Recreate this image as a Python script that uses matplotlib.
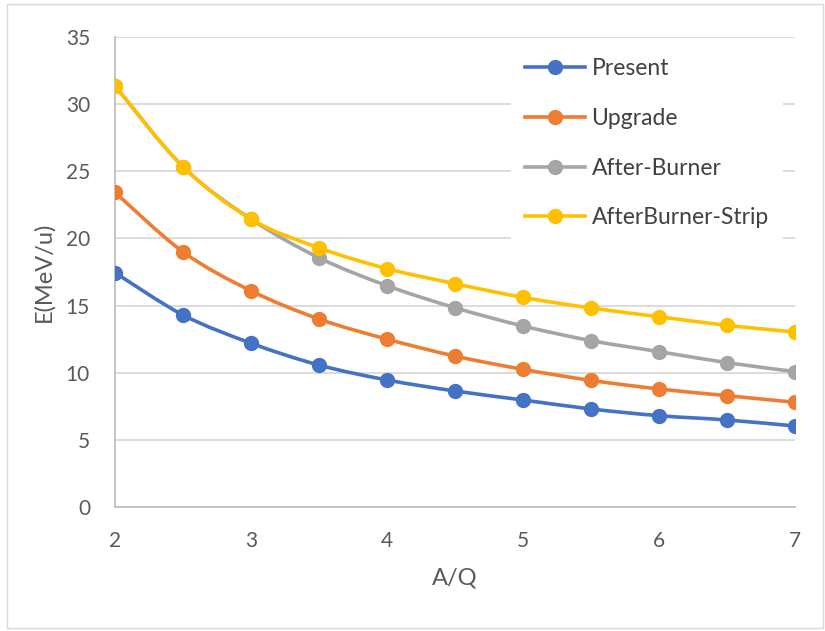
import numpy as np
import matplotlib
matplotlib.use("Agg")
import matplotlib.pyplot as plt
from matplotlib.path import Path
from matplotlib.patches import PathPatch, Rectangle
from matplotlib.lines import Line2D

plt.rcParams['font.family'] = ['Lato', 'DejaVu Sans']

aq = [2, 2.5, 3, 3.5, 4, 4.5, 5, 5.5, 6, 6.5, 7]
present = [17.45, 14.3, 12.2, 10.57, 9.46, 8.64, 7.97, 7.3, 6.8, 6.48, 6.03]
upgrade = [23.43, 19.0, 16.1, 14.0, 12.5, 11.24, 10.25, 9.43, 8.79, 8.29, 7.8]
after_burner = [31.37, 25.34, 21.44, 18.56, 16.48, 14.84, 13.48, 12.39, 11.57, 10.75, 10.08]
ab_strip = [31.37, 25.34, 21.44, 19.3, 17.75, 16.63, 15.61, 14.82, 14.17, 13.53, 13.03]

names = ['Present', 'Upgrade', 'After-Burner', 'AfterBurner-Strip']
colors = ['#4472C4', '#ED7D31', '#A5A5A5', '#FFC000']
series = [present, upgrade, after_burner, ab_strip]


def smooth_path(xs, ys):
    # bezier segments like Excel's smoothed line
    pts = np.column_stack([xs, ys]).astype(float)
    n = len(pts)
    verts = [pts[0]]
    codes = [Path.MOVETO]
    for i in range(n - 1):
        p0 = pts[max(i - 1, 0)]
        p1 = pts[i]
        p2 = pts[i + 1]
        p3 = pts[min(i + 2, n - 1)]
        c1 = p1 + (p2 - p0) / 6.0
        c2 = p2 - (p3 - p1) / 6.0
        verts += [c1, c2, p2]
        codes += [Path.CURVE4] * 3
    return Path(verts, codes)


fig = plt.figure(figsize=(8.25, 6.31), dpi=100)
fig.patches.append(Rectangle((0.009, 0.004), 0.988, 0.99, transform=fig.transFigure,
                             fill=False, edgecolor='#D9D9D9', linewidth=1))
ax = fig.add_axes([115 / 825, 1 - 507 / 631, 680 / 825, 470 / 631])

for k, (vals, col) in enumerate(zip(series, colors)):
    patch = PathPatch(smooth_path(aq, vals), facecolor='none', edgecolor=col,
                      linewidth=2.6, zorder=3 + k, capstyle='round')
    ax.add_patch(patch)
    ax.plot(aq, vals, 'o', color=col, markersize=10, linestyle='none', zorder=3 + k)

ax.set_xlim(2, 7)
ax.set_ylim(0, 35)
ax.set_xticks(range(2, 8))
ax.set_yticks(range(0, 36, 5))
ax.grid(axis='y', color='#D9D9D9', linewidth=1.3)
ax.set_axisbelow(True)
for s in ['top', 'right']:
    ax.spines[s].set_visible(False)
for s in ['left', 'bottom']:
    ax.spines[s].set_color('#BFBFBF')
    ax.spines[s].set_linewidth(1.3)
ax.tick_params(length=0, labelsize=15, labelcolor='#595959')
ax.tick_params(axis='x', pad=17)
ax.tick_params(axis='y', pad=18)
ax.set_xlabel('A/Q', fontsize=17, color='#595959', labelpad=12)
ax.set_ylabel('E(MeV/u)', fontsize=17, color='#595959', labelpad=8)

handles = [Line2D([], [], color=c, linewidth=2.6, marker='o', markersize=10) for c in colors]
leg = ax.legend(handles, names, loc='upper left', bbox_to_anchor=(0.566, 1.008),
                fontsize=16.5, frameon=True, facecolor='white', edgecolor='none',
                framealpha=1, handlelength=2.6, labelspacing=1.25, handletextpad=0.3,
                borderpad=0.6, fancybox=False)
for t in leg.get_texts():
    t.set_color('#404040')
leg.set_zorder(10)

fig.savefig('out.png', dpi=100)
